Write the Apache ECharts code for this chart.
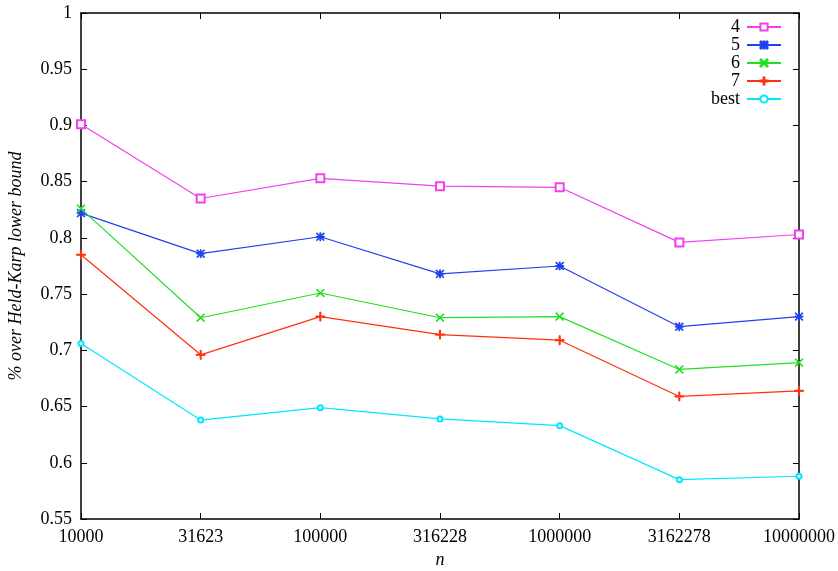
<!DOCTYPE html>
<html>
<head>
<meta charset="utf-8">
<script src="https://cdn.jsdelivr.net/npm/echarts@6/dist/echarts.min.js"></script>
<style>
  html, body { margin: 0; padding: 0; background: #fff; }
  #chart { width: 838px; height: 571px; }
</style>
</head>
<body>
<div id="chart"></div>
<script>
// n values (log spaced)
var sizes = ['10000', '31623', '100000', '316228', '1000000', '3162278', '10000000']
var yTicks = { min: 0.55, max: 1, step: 0.05 }

var seriesNames = ['4', '5', '6', '7', 'best']
var vals4 = [0.901, 0.835, 0.853, 0.846, 0.845, 0.796, 0.803]
var vals5 = [0.822, 0.786, 0.801, 0.768, 0.775, 0.721, 0.730]
var vals6 = [0.826, 0.729, 0.751, 0.729, 0.730, 0.683, 0.689]
var vals7 = [0.785, 0.696, 0.730, 0.714, 0.709, 0.659, 0.664]
var valsBest = [0.706, 0.638, 0.649, 0.639, 0.633, 0.585, 0.588]

var colors = ['#f040f0', '#2040f0', '#20e020', '#ff3010', '#00e8ff']

// point shapes (filled paths)
var plusPath = 'path://M4.4,0 H5.6 V4.4 H10 V5.6 H5.6 V10 H4.4 V5.6 H0 V4.4 H4.4 Z'
var crossPath = 'path://M0.8,0 L5,4.2 L9.2,0 L10,0.8 L5.8,5 L10,9.2 L9.2,10 L5,5.8 L0.8,10 L0,9.2 L4.2,5 L0,0.8 Z'
var starPath = 'path://M4.4,0 H5.6 V4.4 H10 V5.6 H5.6 V10 H4.4 V5.6 H0 V4.4 H4.4 Z ' +
  'M0.8,0 L5,4.2 L9.2,0 L10,0.8 L5.8,5 L10,9.2 L9.2,10 L5,5.8 L0.8,10 L0,9.2 L4.2,5 L0,0.8 Z'

var fontFamily = '"Liberation Serif", "DejaVu Serif", serif'

function makeSeries(name, data, color, symbol, size) {
  return {
    name: name,
    type: 'line',
    data: data,
    symbol: symbol,
    symbolSize: size,
    showAllSymbol: true,
    lineStyle: { color: color, width: 1.2 },
    itemStyle: { color: color, borderColor: color, borderWidth: 1 },
    emphasis: { disabled: true },
    animation: false
  }
}

var chart = echarts.init(document.getElementById('chart'))

chart.setOption({
  backgroundColor: '#fff',
  textStyle: { fontFamily: fontFamily },
  grid: {
    left: 81,
    right: 39,
    top: 13,
    bottom: 52,
    outerBoundsMode: 'none'
  },
  legend: {
    right: 51,
    top: 13,
    orient: 'vertical',
    align: 'right',
    itemWidth: 34,
    itemHeight: 9,
    itemGap: 0,
    textStyle: { fontFamily: fontFamily, fontSize: 18, color: '#000', padding: [0, 2, 0, 0] },
    data: seriesNames
  },
  xAxis: [{
    type: 'category',
    data: sizes,
    boundaryGap: false,
    name: 'n',
    nameLocation: 'middle',
    nameGap: 29,
    nameTextStyle: { fontFamily: fontFamily, fontSize: 18, fontStyle: 'italic', color: '#000' },
    axisLine: { lineStyle: { color: '#000', width: 1.5 } },
    axisTick: { inside: true, length: 6, lineStyle: { color: '#000' } },
    axisLabel: { color: '#000', fontSize: 18, margin: 9 },
    splitLine: { show: false }
  }, {
    type: 'category',
    data: sizes,
    boundaryGap: false,
    position: 'top',
    axisLine: { lineStyle: { color: '#000', width: 1.5 } },
    axisTick: { inside: true, length: 6, lineStyle: { color: '#000' } },
    axisLabel: { show: false },
    splitLine: { show: false }
  }],
  yAxis: [{
    type: 'value',
    min: yTicks.min,
    max: yTicks.max,
    interval: yTicks.step,
    name: '% over Held-Karp lower bound',
    nameLocation: 'middle',
    nameGap: 56,
    nameTextStyle: { fontFamily: fontFamily, fontSize: 18, fontStyle: 'italic', color: '#000' },
    axisLine: { show: true, lineStyle: { color: '#000', width: 1.5 } },
    axisTick: { show: true, inside: true, length: 6, lineStyle: { color: '#000' } },
    axisLabel: {
      color: '#000',
      fontSize: 18,
      margin: 9,
      formatter: function(v) { return String(+v.toFixed(2)) }
    },
    splitLine: { show: false }
  }, {
    type: 'value',
    min: yTicks.min,
    max: yTicks.max,
    interval: yTicks.step,
    position: 'right',
    axisLine: { show: true, lineStyle: { color: '#000', width: 1.5 } },
    axisTick: { show: true, inside: true, length: 6, lineStyle: { color: '#000' } },
    axisLabel: { show: false },
    splitLine: { show: false }
  }],
  series: [
    makeSeries(seriesNames[0], vals4, colors[0], 'emptyRect', 8),
    makeSeries(seriesNames[1], vals5, colors[1], starPath, 8),
    makeSeries(seriesNames[2], vals6, colors[2], crossPath, 8),
    makeSeries(seriesNames[3], vals7, colors[3], plusPath, 9),
    makeSeries(seriesNames[4], valsBest, colors[4], 'emptyCircle', 5)
  ]
})
</script>
</body>
</html>
